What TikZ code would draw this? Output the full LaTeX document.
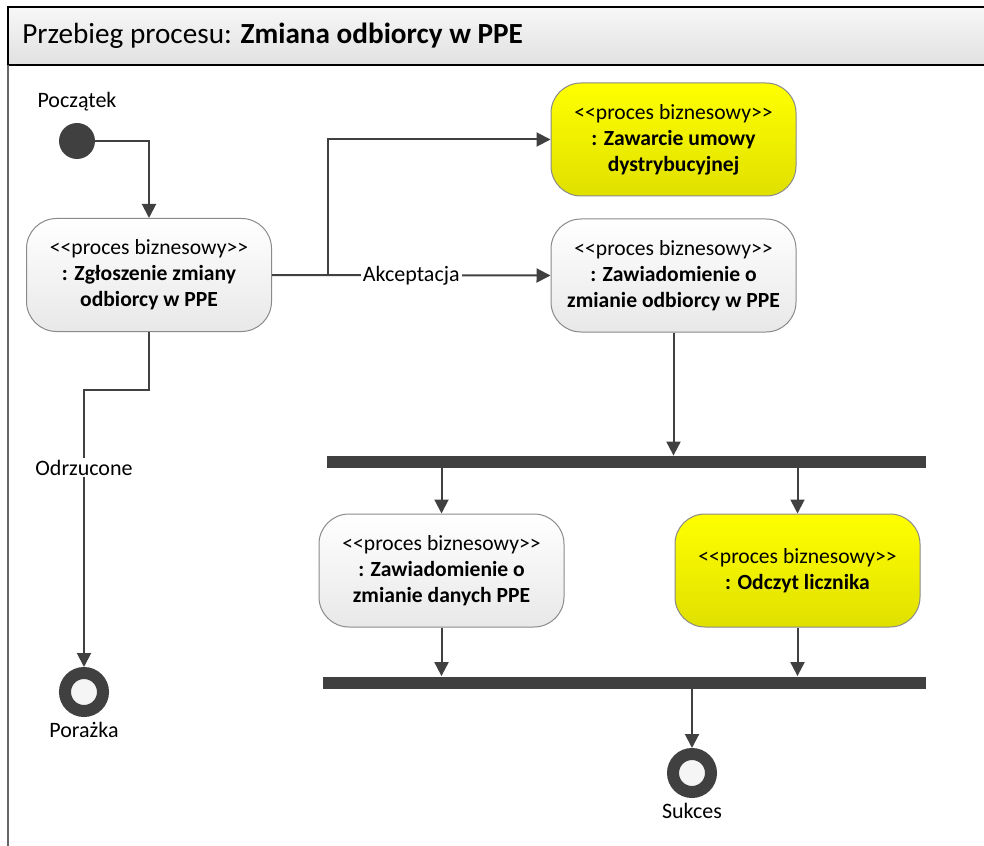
\documentclass[tikz,border=0pt]{standalone}
\usepackage{fontspec}
\newfontfamily\cf{Carlito}
\usetikzlibrary{arrows.meta}
\definecolor{dk}{HTML}{404040}
\definecolor{bd}{HTML}{8A8A8A}
\definecolor{ylt}{HTML}{FFFF00}
\definecolor{ydk}{HTML}{E0E000}
\begin{document}
\begin{tikzpicture}[x=0.5pt,y=-0.5pt,
  proc/.style={rectangle, rounded corners=15pt, draw=bd, line width=0.5pt,
    minimum width=122.5pt, minimum height=56.5pt, align=center,
    font=\cf\fontsize{10.8}{13}\selectfont, top color=white, bottom color=gray!18, inner sep=2pt},
  yproc/.style={proc, top color=ylt, bottom color=ydk},
  conn/.style={draw=dk, line width=1pt, -{Triangle[length=7pt,width=7pt]}},
  bar/.style={rectangle, fill=dk, inner sep=0pt, minimum height=6pt},
  lbl/.style={font=\cf\fontsize{11}{13}\selectfont, inner sep=1pt},
  startn/.style={circle, fill=dk, inner sep=0pt, minimum size=18pt},
  endn/.style={circle, draw=dk, line width=6pt, fill=gray!8, inner sep=0pt, minimum size=19pt}
]
\useasboundingbox (0,0) rectangle (984,845);
\begin{scope}
\clip (0,0) rectangle (984,845);
\shade[top color=gray!6, bottom color=gray!24] (8,7) rectangle (1000,65);
\draw[black, line width=1pt] (1000,7) -- (8,7) -- (8,65) -- (1000,65);
\draw[gray!80!black, line width=0.6pt] (8,65) -- (8,850);
\end{scope}
\node[anchor=west, font=\cf\fontsize{14.6}{17}\selectfont, inner sep=0pt] (title) at (22,36)
  {Przebieg procesu: \textbf{Zmiana odbiorcy w PPE}};

\node[startn] (st) at (77,141) {};
\node[lbl] (lst) at (77,102) {Początek};

\node[proc] (b1) at (149,275) {<<proces biznesowy>>\\\textbf{: Zgłoszenie zmiany}\\\textbf{odbiorcy w PPE}};
\node[yproc] (b0) at (673.5,139.5) {<<proces biznesowy>>\\\textbf{: Zawarcie umowy}\\\textbf{dystrybucyjnej}};
\node[proc] (b2) at (673.5,275.5) {<<proces biznesowy>>\\\textbf{: Zawiadomienie o}\\\textbf{zmianie odbiorcy w PPE}};
\node[bar, minimum width=299.5pt] (fork) at (626.5,462) {};
\node[proc] (b3) at (441.5,570.5) {<<proces biznesowy>>\\\textbf{: Zawiadomienie o}\\\textbf{zmianie danych PPE}};
\node[yproc] (b4) at (797.5,570.5) {<<proces biznesowy>>\\\textbf{: Odczyt licznika}};
\node[bar, minimum width=301.5pt] (join) at (624.5,682.5) {};

\node[endn] (fail) at (84,692) {};
\node[lbl] (lfail) at (84,730) {Porażka};
\node[endn] (succ) at (692,773) {};
\node[lbl] (lsucc) at (692,811) {Sukces};

\coordinate (split) at (328,275);
\coordinate (bend) at (149,390);

\draw[conn] (st.east) -| (b1.north);
\draw[conn] (b1.east) -- node[lbl, fill=white] {Akceptacja} (b2.west);
\draw[conn] (split) |- (b0.west);
\draw[conn] (b1.south) -- (bend) -| node[lbl, fill=white, pos=0.64] {Odrzucone} (fail.north);
\draw[conn] (b2.south) -- (b2.south |- fork.north);
\draw[conn] (b3.north |- fork.south) -- (b3.north);
\draw[conn] (b4.north |- fork.south) -- (b4.north);
\draw[conn] (b3.south) -- (b3.south |- join.north);
\draw[conn] (b4.south) -- (b4.south |- join.north);
\draw[conn] (succ.north |- join.south) -- (succ.north);
\end{tikzpicture}
\end{document}
